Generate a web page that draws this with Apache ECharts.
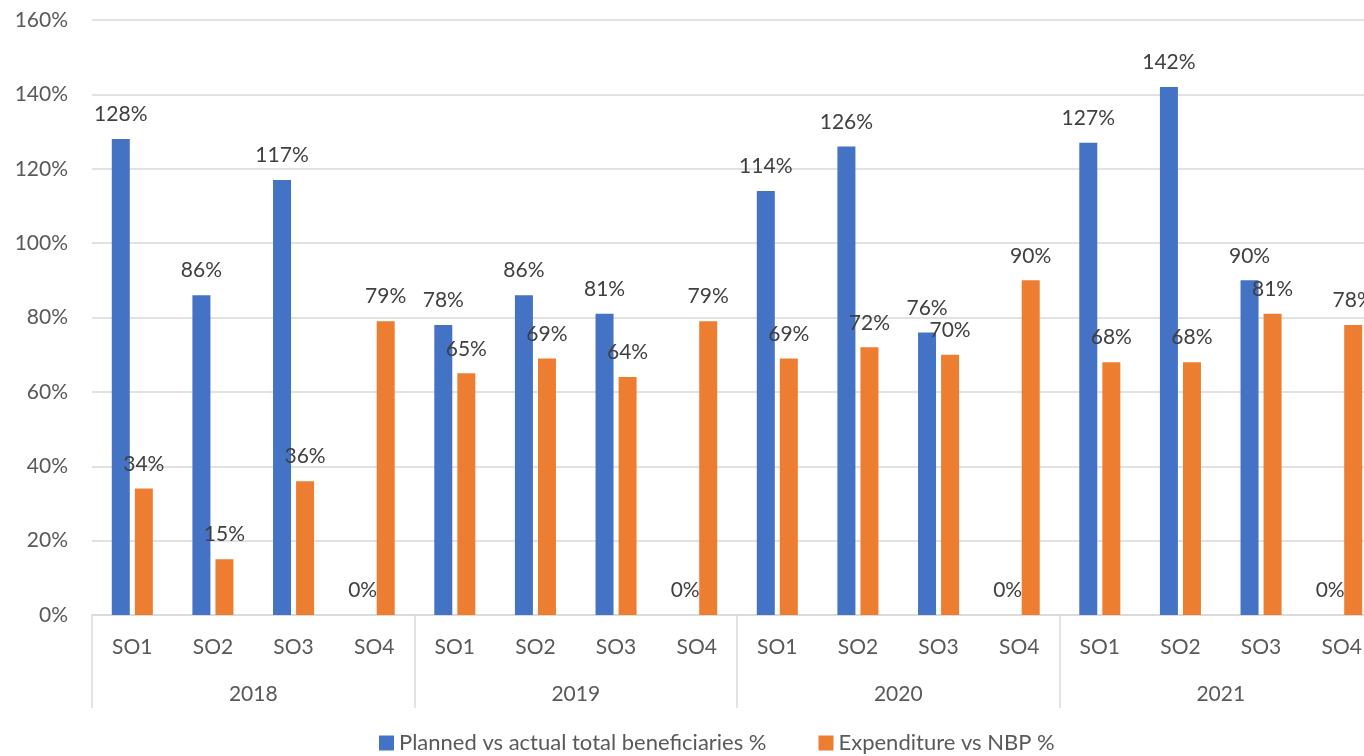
<!DOCTYPE html>
<html>
<head>
<meta charset="utf-8">
<script src="https://cdn.jsdelivr.net/npm/echarts@6/dist/echarts.min.js"></script>
<style>
  html, body { margin: 0; padding: 0; background: #ffffff; overflow: hidden; }
  #chart { width: 1364px; height: 756px; }
</style>
</head>
<body>
<div id="chart"></div>
<script>
// Years and strategic objectives per year
const years = ['2018', '2019', '2020', '2021'];
const objectives = ['SO1', 'SO2', 'SO3', 'SO4'];

// Percent values, one entry per year/objective (2018 SO1..SO4, 2019 SO1..SO4, ...)
const plannedVsActual = [128, 86, 117, 0, 78, 86, 81, 0, 114, 126, 76, 0, 127, 142, 90, 0];
const expenditureVsNbp = [34, 15, 36, 79, 65, 69, 64, 79, 69, 72, 70, 90, 68, 68, 81, 78];

const seriesNames = ['Planned vs actual total beneficiaries %', 'Expenditure vs NBP %'];
const yTicks = { min: 0, max: 160, interval: 20 };

const font = 'Lato, "Open Sans", sans-serif';
const gridColor = '#d9d9d9';
const textColor = '#595959';

const categories = [];
years.forEach(function () { objectives.forEach(function (o) { categories.push(o); }); });

const labelStyle = {
  show: true,
  position: 'top',
  distance: 14,
  color: '#404040',
  fontFamily: font,
  fontSize: 21,
  formatter: function (p) { return p.value + '%'; }
};

const chart = echarts.init(document.getElementById('chart'), null, { renderer: 'canvas' });
chart.setOption({
  animation: false,
  textStyle: { fontFamily: font },
  // the plot runs past the right edge of the canvas, so the last column is cut
  grid: {
    left: 92, width: 1290, top: 20, bottom: 141,
    containLabel: false,
    outerBoundsMode: 'none'
  },
  legend: {
    bottom: -3,
    left: 374,
    icon: 'rect',
    itemWidth: 15,
    itemHeight: 15,
    itemGap: 52,
    textStyle: { color: textColor, fontSize: 22, fontFamily: font },
    data: seriesNames
  },
  xAxis: [
    {
      type: 'category',
      data: categories,
      position: 'bottom',
      axisLine: { show: true, lineStyle: { color: gridColor, width: 1.5 } },
      axisTick: { show: false },
      axisLabel: { color: textColor, fontSize: 21, fontFamily: font, margin: 22, interval: 0 }
    },
    {
      type: 'category',
      data: years,
      position: 'bottom',
      axisLine: { show: false },
      axisTick: { show: true, length: 93, lineStyle: { color: gridColor, width: 1.5 } },
      axisLabel: { color: textColor, fontSize: 21, fontFamily: font, margin: 69, interval: 0 }
    }
  ],
  yAxis: {
    type: 'value',
    min: yTicks.min,
    max: yTicks.max,
    interval: yTicks.interval,
    axisLine: { show: false },
    axisTick: { show: false },
    splitLine: { lineStyle: { color: gridColor, width: 1.5 } },
    axisLabel: {
      color: textColor, fontSize: 21, fontFamily: font, margin: 24,
      formatter: function (v) { return v + '%'; }
    }
  },
  series: [
    {
      name: seriesNames[0],
      type: 'bar',
      xAxisIndex: 0,
      data: plannedVsActual,
      barWidth: 18,
      barGap: '28%',
      itemStyle: { color: '#4472C4' },
      label: labelStyle
    },
    {
      name: seriesNames[1],
      type: 'bar',
      xAxisIndex: 0,
      data: expenditureVsNbp,
      barWidth: 18,
      barGap: '28%',
      itemStyle: { color: '#ED7D31' },
      label: labelStyle
    }
  ]
});
</script>
</body>
</html>
